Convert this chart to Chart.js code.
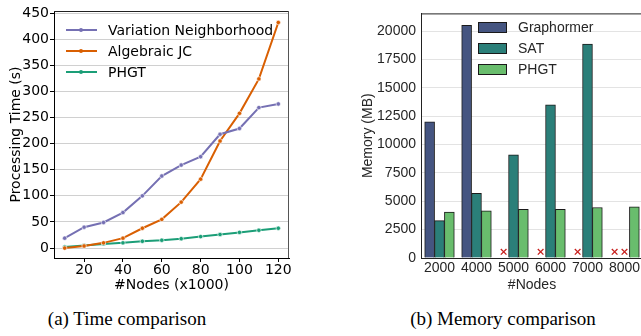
<!DOCTYPE html>
<html>
<head>
<meta charset="utf-8">
<script src="https://cdn.jsdelivr.net/npm/chart.js@4.4.1/dist/chart.umd.min.js"></script>
<style>
  html, body { margin: 0; padding: 0; background: #fff; }
  body { width: 641px; height: 336px; position: relative; overflow: hidden; }
  .box { position: absolute; }
  #c1wrap { left: 0; top: 0; width: 300px; height: 300px; }
  #c2wrap { left: 340px; top: 0; width: 310px; height: 300px; }
  canvas { display: block; }
  .cap { position: absolute; top: 308px; font-family: "Liberation Serif", "Times New Roman", serif; font-size: 19px; color: #000; white-space: nowrap; transform: translateX(-50%); }
  .leg { position: absolute; white-space: nowrap; }
  .leg1 { font-family: "DejaVu Sans", sans-serif; font-size: 14px; color: #000; }
  .leg2 { font-family: "Liberation Sans", Arial, sans-serif; font-size: 14px; color: #262626; }
  .lrow { position: absolute; left: 0; height: 18px; line-height: 18px; }
  .lline { position: absolute; left: 0; top: 8px; width: 31px; height: 2px; }
  .ldot { position: absolute; left: 13px; top: 7px; width: 4px; height: 4px; border-radius: 50%; }
  .ltext { position: absolute; left: 42px; top: 0; white-space: nowrap; }
  .lpatch { position: absolute; left: 0; top: 4px; width: 27px; height: 9px; border: 1px solid #1a1a1a; }
  .ptext { position: absolute; left: 40px; top: 0; white-space: nowrap; }
</style>
</head>
<body>
<div id="c1wrap" class="box"><canvas id="c1" width="300" height="300"></canvas></div>
<div id="c2wrap" class="box"><canvas id="c2" width="310" height="300"></canvas></div>

<div class="leg leg1" style="left:66px; top:21px;">
  <div class="lrow" style="top:0px;"><div class="lline" style="background:#7570b3"></div><div class="ldot" style="background:#7570b3"></div><span class="ltext">Variation Neighborhood</span></div>
  <div class="lrow" style="top:21px;"><div class="lline" style="background:#d95f02"></div><div class="ldot" style="background:#d95f02"></div><span class="ltext">Algebraic JC</span></div>
  <div class="lrow" style="top:42px;"><div class="lline" style="background:#1b9e77"></div><div class="ldot" style="background:#1b9e77"></div><span class="ltext">PHGT</span></div>
</div>

<div class="leg leg2" style="left:478px; top:18px;">
  <div class="lrow" style="top:0px;"><div class="lpatch" style="background:#455581"></div><span class="ptext">Graphormer</span></div>
  <div class="lrow" style="top:21px;"><div class="lpatch" style="background:#2b7f79"></div><span class="ptext">SAT</span></div>
  <div class="lrow" style="top:42px;"><div class="lpatch" style="background:#69bd6d"></div><span class="ptext">PHGT</span></div>
</div>

<div class="cap" style="left:127px;">(a) Time comparison</div>
<div class="cap" style="left:503px;">(b) Memory comparison</div>

<script>
// ---------- Data: (a) Time comparison ----------
const nodesK = [10, 20, 30, 40, 50, 60, 70, 80, 90, 100, 110, 120];
const timeVariation = [19, 40, 49, 68, 100, 138, 159, 175, 218, 229, 269, 276];
const timeAlgebraic = [0, 4, 10, 19, 38, 55, 88, 132, 205, 258, 324, 432];
const timePHGT = [2, 5, 8, 10, 13, 15, 18, 22, 26, 30, 34, 38];
const timeTicks = [0, 50, 100, 150, 200, 250, 300, 350, 400, 450];
const nodeTicks = [20, 40, 60, 80, 100, 120];

// ---------- Data: (b) Memory comparison ----------
const memCategories = ['2000', '4000', '5000', '6000', '7000', '8000'];
const memGraphormer = [12000, 20500, null, null, null, null];
const memSAT = [3300, 5700, 9100, 13500, 18850, null];
const memPHGT = [4050, 4150, 4300, 4300, 4450, 4500];
const memTicks = [0, 2500, 5000, 7500, 10000, 12500, 15000, 17500, 20000];
const oomMarkValue = 550; // height of the red "x" (out of memory) marks

// ---------- Chart (a) ----------
const dejavu = 'DejaVu Sans';
function mkLine(label, data, color) {
  return {
    label, data: nodesK.map((x, i) => ({x, y: data[i]})),
    borderColor: color, backgroundColor: color,
    borderWidth: 2, pointRadius: 2.2, pointBorderColor: '#fff', pointBorderWidth: 0.6,
    pointBackgroundColor: color, tension: 0
  };
}
const frameA = {
  id: 'frameA',
  afterDraw(chart) {
    const {ctx, chartArea: a} = chart;
    ctx.save();
    ctx.lineWidth = 1;
    ctx.strokeStyle = '#222';
    ctx.beginPath();
    ctx.moveTo(a.left, a.top + 0.5); ctx.lineTo(a.right, a.top + 0.5);
    ctx.stroke();
    ctx.strokeStyle = '#555';
    ctx.beginPath();
    ctx.moveTo(a.right - 0.5, a.top); ctx.lineTo(a.right - 0.5, a.bottom);
    ctx.stroke();
    ctx.restore();
  }
};
new Chart(document.getElementById('c1'), {
  type: 'line',
  data: { datasets: [
    mkLine('Variation Neighborhood', timeVariation, '#7570b3'),
    mkLine('Algebraic JC', timeAlgebraic, '#d95f02'),
    mkLine('PHGT', timePHGT, '#1b9e77')
  ]},
  options: {
    responsive: false, animation: false, maintainAspectRatio: false, devicePixelRatio: 1,
    layout: { padding: { left: 0, right: 11, top: 11, bottom: 0 } },
    plugins: { legend: { display: false }, tooltip: { enabled: false } },
    scales: {
      x: {
        type: 'linear', min: 4.5, max: 125.5,
        afterBuildTicks: s => { s.ticks = nodeTicks.map(v => ({value: v})); },
        afterFit: s => { s.height = 42; },
        grid: { display: true, drawOnChartArea: false, tickLength: 4, tickColor: '#000' },
        border: { color: '#000', width: 1 },
        ticks: { font: { family: dejavu, size: 14 }, color: '#000', padding: 0, maxRotation: 0, callback: v => String(v) },
        title: { display: true, text: '#Nodes (x1000)', font: { family: dejavu, size: 14 }, color: '#000', padding: { top: 0, bottom: 6 } }
      },
      y: {
        type: 'linear', min: -19, max: 454,
        afterBuildTicks: s => { s.ticks = timeTicks.map(v => ({value: v})); },
        afterFit: s => { s.width = 54; },
        grid: { color: '#d0d0d0', lineWidth: 1, tickLength: 4, tickColor: '#000' },
        border: { color: '#000', width: 1 },
        ticks: { font: { family: dejavu, size: 14 }, color: '#000', padding: 1, callback: v => String(v) },
        title: { display: true, text: 'Processing Time (s)', font: { family: dejavu, size: 14 }, color: '#000', padding: { top: 8, bottom: 0 } }
      }
    }
  },
  plugins: [frameA]
});

// ---------- Chart (b) ----------
const arial = 'Liberation Sans';
const dodge = [-0.8 / 3, 0, 0.8 / 3]; // seaborn-style dodge of the 3 series inside a group
const memSeries = [memGraphormer, memSAT, memPHGT];
const barPoints = k => memCategories.map((c, i) => ({x: i + dodge[k], y: memSeries[k][i]}));
const oomPoints = [];
memSeries.forEach((vals, k) => vals.forEach((v, i) => { if (v === null) oomPoints.push({x: i + dodge[k], y: oomMarkValue}); }));

const frameB = {
  id: 'frameB',
  afterDraw(chart) {
    const {ctx, chartArea: a} = chart;
    ctx.save();
    ctx.lineWidth = 1;
    ctx.strokeStyle = '#222';
    ctx.beginPath();
    ctx.moveTo(a.left, a.top + 0.5); ctx.lineTo(a.right, a.top + 0.5);
    ctx.stroke();
    ctx.restore();
  }
};
function mkBar(label, k, color) {
  return { type: 'bar', label, data: barPoints(k), backgroundColor: color, borderColor: '#1a1a1a', borderWidth: 1,
    grouped: false, barThickness: 9.9, order: 2 };
}
new Chart(document.getElementById('c2'), {
  type: 'bar',
  data: {
    datasets: [
      mkBar('Graphormer', 0, '#455581'),
      mkBar('SAT', 1, '#2b7f79'),
      mkBar('PHGT', 2, '#69bd6d'),
      { type: 'scatter', label: 'OOM', data: oomPoints,
        pointStyle: 'crossRot', pointRadius: 4, borderColor: '#c8201e', borderWidth: 1.3,
        backgroundColor: '#c8201e', order: 1 }
    ]
  },
  options: {
    responsive: false, animation: false, maintainAspectRatio: false, devicePixelRatio: 1,
    layout: { padding: { left: 0, right: 7, top: 9, bottom: 0 } },
    plugins: { legend: { display: false }, tooltip: { enabled: false } },
    scales: {
      x: {
        type: 'linear', min: -0.5, max: memCategories.length - 0.5, offset: false,
        afterBuildTicks: s => { s.ticks = memCategories.map((c, i) => ({value: i})); },
        afterFit: s => { s.height = 42; },
        grid: { display: false, drawTicks: false },
        border: { color: '#222', width: 1 },
        ticks: { font: { family: arial, size: 14 }, color: '#262626', padding: 2, maxRotation: 0, autoSkip: false,
          callback: v => memCategories[Math.round(v)] },
        title: { display: true, text: '#Nodes', font: { family: arial, size: 14 }, color: '#262626', padding: { top: 0, bottom: 6 } }
      },
      y: {
        type: 'linear', min: 0, max: 21556,
        afterBuildTicks: s => { s.ticks = memTicks.map(v => ({value: v})); },
        afterFit: s => { s.width = 81; },
        grid: { color: '#e3e3e3', lineWidth: 1, drawTicks: false },
        border: { color: '#222', width: 1 },
        ticks: { font: { family: arial, size: 14 }, color: '#262626', padding: 5, callback: v => String(v) },
        title: { display: true, text: 'Memory (MB)', font: { family: arial, size: 14 }, color: '#262626', padding: { top: 20, bottom: 0 } }
      }
    }
  },
  plugins: [frameB]
});
</script>
</body>
</html>
